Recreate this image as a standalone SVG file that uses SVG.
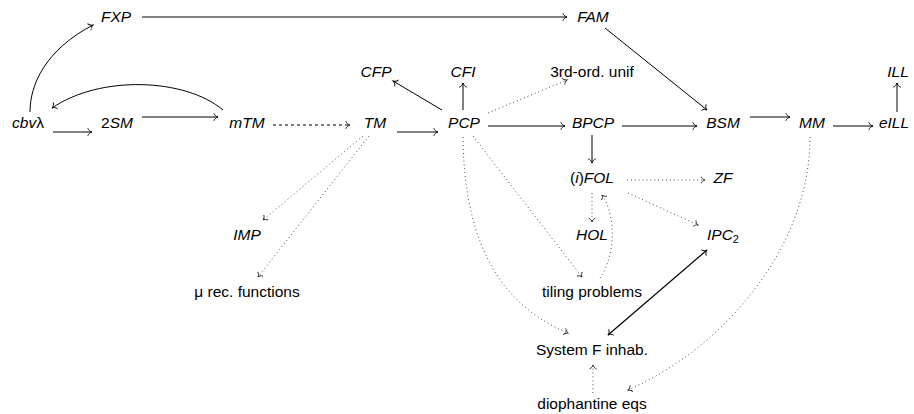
<svg xmlns="http://www.w3.org/2000/svg" width="914" height="414" viewBox="0 0 914 414">
<style>
text{font-family:"Liberation Sans",Arial,sans-serif;font-size:15.5px;fill:#000;text-anchor:middle}
.m{font-style:italic}
.u{font-style:normal}
.s{fill:none;stroke:#000;stroke-width:1;marker-end:url(#to)}
.d{fill:none;stroke:#222;stroke-width:0.9;stroke-dasharray:0.9 3;marker-end:url(#tod)}
.da{fill:none;stroke:#000;stroke-width:1;stroke-dasharray:3 3;marker-end:url(#to)}
.b{fill:none;stroke:#000;stroke-width:1.2;marker-end:url(#to);marker-start:url(#to)}
</style>
<defs>
<marker id="to" viewBox="-6 -5 8 10" markerWidth="8" markerHeight="10" refX="0" refY="0" orient="auto-start-reverse" markerUnits="userSpaceOnUse">
<path d="M-4.2,-3.8 C-3.5,-1.6 -1.5,-0.4 0,0 C-1.5,0.4 -3.5,1.6 -4.2,3.8" fill="none" stroke="#000" stroke-width="0.9"/>
</marker>
<marker id="tod" viewBox="-6 -5 8 10" markerWidth="8" markerHeight="10" refX="0" refY="0" orient="auto" markerUnits="userSpaceOnUse">
<path d="M-3.8,-3.4 C-3.2,-1.4 -1.4,-0.4 0,0 C-1.4,0.4 -3.2,1.4 -3.8,3.4" fill="none" stroke="#222" stroke-width="0.9"/>
</marker>
</defs>
<g id="connectors">
<path class="s" d="M142,17 L567,17"/>
<path class="s" d="M605,28 L707,110"/>
<path class="s" d="M30,112 C30,85 45,50 93,25"/>
<path class="s" d="M223,110 C185,78 100,75 52,108"/>
<path class="s" d="M53,132 L92,132"/>
<path class="s" d="M142,117 L218,117"/>
<path class="da" d="M273,125 L350,125"/>
<path class="s" d="M397,132 L438,132"/>
<path class="s" d="M488,126 L565,126"/>
<path class="s" d="M622,126 L697,126"/>
<path class="s" d="M750,117 L790,117"/>
<path class="s" d="M833,126 L873,126"/>
<path class="s" d="M897,112 L897,83"/>
<path class="s" d="M442,110 L393,81"/>
<path class="s" d="M463,110 L463,83"/>
<path class="d" d="M488,113 L567,80"/>
<path class="d" d="M363,136 L263,220"/>
<path class="d" d="M369,136 L258,277"/>
<path class="s" d="M592,135 L592,163"/>
<path class="d" d="M473,136 L582,277"/>
<path class="d" d="M463,137 C464,235 495,303 568,333"/>
<path class="d" d="M627,180 L705,180"/>
<path class="d" d="M592,193 L592,222"/>
<path class="d" d="M628,193 L698,225"/>
<path class="d" d="M600,278 C616,255 616,215 602,195"/>
<path class="b" d="M608,335 L707,250"/>
<path class="d" d="M593,393 L593,365"/>
<path class="d" d="M810,137 C810,250 720,350 628,390"/>
</g>
<g id="FXP"><text class="m" x="116" y="22">FXP</text></g>
<g id="FAM"><text class="m" x="593" y="22">FAM</text></g>
<g id="cbv"><text x="28" y="128"><tspan class="m">cbv</tspan>λ</text></g>
<g id="2SM"><text x="117" y="128">2<tspan class="m">SM</tspan></text></g>
<g id="mTM"><text class="m" x="247" y="128">mTM</text></g>
<g id="TM"><text class="m" x="375" y="128">TM</text></g>
<g id="PCP"><text class="m" x="464" y="128">PCP</text></g>
<g id="BPCP"><text class="m" x="593" y="128">BPCP</text></g>
<g id="BSM"><text class="m" x="723" y="128">BSM</text></g>
<g id="MM"><text class="m" x="812" y="128">MM</text></g>
<g id="eILL"><text class="m" x="894" y="128">eILL</text></g>
<g id="ILL"><text class="m" x="898" y="77">ILL</text></g>
<g id="CFP"><text class="m" x="376" y="77">CFP</text></g>
<g id="CFI"><text class="m" x="463" y="77">CFI</text></g>
<g id="unif"><text x="592" y="77">3rd-ord. unif</text></g>
<g id="FOL"><text x="592" y="183">(<tspan class="m">i</tspan>)<tspan class="m">FOL</tspan></text></g>
<g id="ZF"><text class="m" x="723" y="183">ZF</text></g>
<g id="HOL"><text class="m" x="592" y="240">HOL</text></g>
<g id="IPC2"><text x="723" y="240"><tspan class="m">IPC</tspan><tspan class="u" font-size="11" dy="3">2</tspan></text></g>
<g id="IMP"><text class="m" x="247" y="240">IMP</text></g>
<g id="murec"><text x="247" y="297">μ rec. functions</text></g>
<g id="tiling"><text x="592" y="297">tiling problems</text></g>
<g id="sysF"><text x="592" y="355">System F inhab.</text></g>
<g id="dioph"><text x="592" y="409">diophantine eqs</text></g>
</svg>
